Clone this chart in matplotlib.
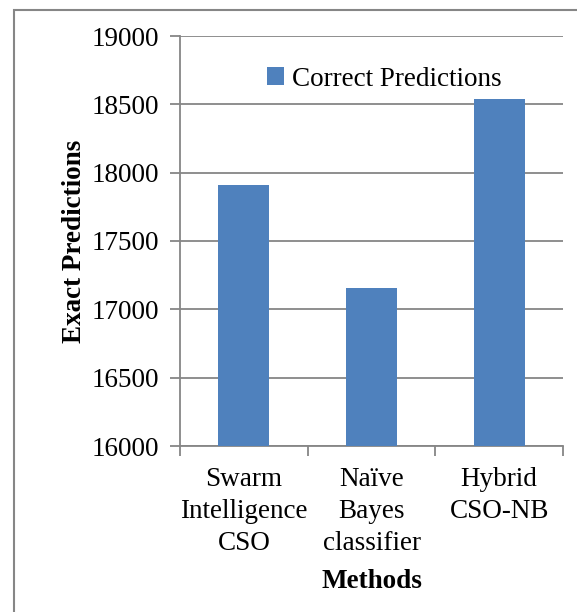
import matplotlib
matplotlib.use("Agg")
import matplotlib.pyplot as plt
from matplotlib.patches import Rectangle

categories = ["Swarm\nIntelligence\nCSO", "Naïve\nBayes\nclassifier", "Hybrid\nCSO-NB"]
values = [17910, 17155, 18540]
series_name = "Correct Predictions"
yticks = [16000, 16500, 17000, 17500, 18000, 18500, 19000]

plt.rcParams['font.family'] = ['Liberation Serif', 'DejaVu Serif']
W, H = 577, 612
FS = 19.5
fig = plt.figure(figsize=(W/100, H/100), dpi=100)
ax = fig.add_axes([180/W, 1-446/H, (563-180)/W, (446-36)/H])

gray = '#868686'
x = list(range(len(categories)))
ax.bar(x, values, width=0.4, color='#4F81BD', zorder=3, label=series_name)
ax.set_ylim(16000, 19000)
ax.set_xlim(-0.5, 2.5)
ax.set_yticks(yticks)
ax.set_yticklabels([str(v) for v in yticks], fontsize=FS)
ax.yaxis.grid(True, color=gray, linewidth=1.3, zorder=0)
ax.set_xticks(x)
ax.set_xticklabels(categories, fontsize=FS, linespacing=1.38)
ax.set_xticks([-0.5, 0.5, 1.5, 2.5], minor=True)
ax.tick_params(axis='x', which='major', length=0, pad=15)
ax.tick_params(axis='x', which='minor', length=7, color=gray, width=1.3)
ax.tick_params(axis='y', length=7, color=gray, width=1.3, pad=8)
for s in ['top', 'right']:
    ax.spines[s].set_visible(False)
for s in ['left', 'bottom']:
    ax.spines[s].set_color(gray)
    ax.spines[s].set_linewidth(1.3)
ax.set_ylabel("Exact Predictions", fontsize=FS, fontweight='bold', labelpad=3)
ax.set_xlabel("Methods", fontsize=FS, fontweight='bold', labelpad=9)

leg = ax.legend(loc='upper left', bbox_to_anchor=(0.2, 0.952), frameon=False,
                fontsize=FS, handlelength=0.6, handleheight=0.6, handletextpad=0.3,
                borderaxespad=0)

fig.patches.append(Rectangle((14/W, -0.2), 1.5, 1.2 - 10/H, transform=fig.transFigure,
                             fill=False, edgecolor=gray, linewidth=1.5))
fig.savefig("out.png", dpi=100)
